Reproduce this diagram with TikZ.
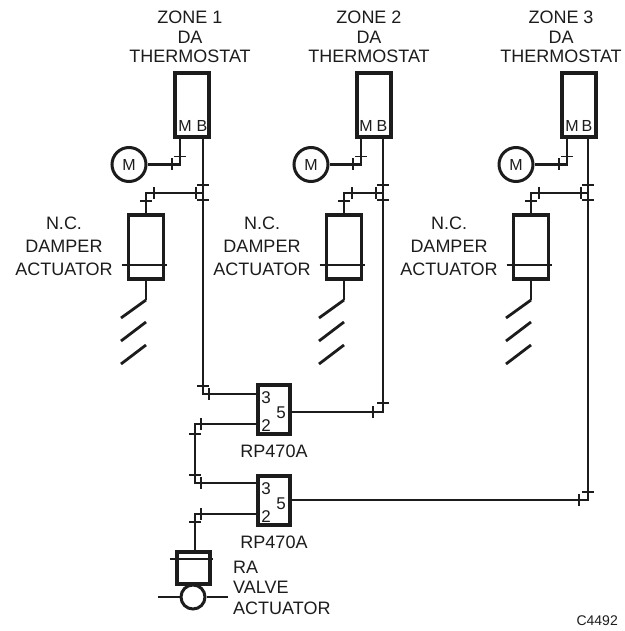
\documentclass[tikz,border=0pt]{standalone}
\usepackage{fontspec}
\setmainfont{Liberation Sans}
\definecolor{ink}{gray}{0.11}
\tikzset{
    wire/.style={draw=ink,line width=2.4pt},
    tick/.style={draw=ink,line width=1.6pt},
    bar/.style={draw=ink,line width=1.6pt},
    slash/.style={draw=ink,line width=2.8pt},
    heavybox/.style={draw=ink,line width=3.6pt,inner sep=0pt,fill=white},
    label/.style={text=ink,font=\fontsize{18}{20}\selectfont,align=center,inner sep=0pt},
    small/.style={text=ink,font=\fontsize{16}{18}\selectfont,inner sep=0pt,anchor=base}
}
\def\vtick#1#2{\draw[tick] (#1) ++(#2,-6) -- ++(0,12);}
\def\htick#1#2{\draw[tick] (#1) ++(-6,#2) -- ++(12,0);}
\begin{document}
\begin{tikzpicture}[x=1pt,y=-1pt]
    \useasboundingbox (0,0) rectangle (624,631);
    % the three zones
    \foreach \z/\lx/\tx/\mx/\bx/\cx/\dx in {1/190/192/180/203/129/146,2/369/374/361/383/311/344,3/561/579/567/588/516/531}{
        \node[heavybox,minimum width=34pt,minimum height=64pt] (therm\z) at (\tx,105) {};
        \node[small] at (\mx+5,132) {M};
        \node[small] at (\bx-1,132) {B};
        \node[label,anchor=base] at (\lx,24) {ZONE \z};
        \node[label,anchor=base] at (\lx,44) {DA};
        \node[label,anchor=base] at (\lx,63) {THERMOSTAT};
        \node[draw=ink,line width=3pt,circle,minimum size=34pt,inner sep=0pt] (motor\z) at (\cx,164.5) {};
        \node[small,anchor=center] at (\cx,165) {M};
        \coordinate (m\z) at (\mx,164.5);
        \coordinate (b\z) at (\bx,193);
        \coordinate (d\z) at (\dx,193);
        \draw[wire] (therm\z.south -| m\z) -- (m\z) -- (motor\z.east);
        \vtick{m\z}{-8}
        \htick{m\z}{-8}
        % damper
        \node[heavybox,minimum width=35pt,minimum height=64pt] (damper\z) at (\dx,247) {};
        \draw[bar] (damper\z.west) ++(-5,18) -- ++(45,0);
        \draw[wire] (b\z) -- (d\z) -- (damper\z.north);
        \vtick{b\z}{-7}
        \htick{b\z}{-8}
        \htick{b\z}{7}
        \vtick{d\z}{8}
        \htick{d\z}{8}
        \coordinate (s\z) at (\dx,300);
        \draw[wire] (damper\z.south) -- (s\z);
        \draw[slash] (s\z) -- ++(-25,18);
        \draw[slash] (s\z) ++(0,22) -- ++(-25,19);
        \draw[slash] (s\z) ++(0,45) -- ++(-25,19);
        \node[label,anchor=base] at (\dx-82,229) {N.C.};
        \node[label,anchor=base] at (\dx-82,252) {DAMPER};
        \node[label,anchor=base] at (\dx-82,275) {ACTUATOR};
    }
    % the two relays
    \foreach \r/\y/\n in {1/409.5/457,2/500.5/548}{
        \node[heavybox,minimum width=32pt,minimum height=49pt] (relay\r) at (274,\y) {};
        \node[small,font=\fontsize{17}{18}\selectfont] at (266,\y-6) {3};
        \node[small,font=\fontsize{17}{18}\selectfont] at (281,\y+8.5) {5};
        \node[small,font=\fontsize{17}{18}\selectfont] at (266,\y+22) {2};
        \node[label,anchor=base] at (274,\n) {RP470A};
    }
    % valve actuator
    \node[heavybox,minimum width=33pt,minimum height=32pt] (valve) at (193.5,568) {};
    \draw[bar] (valve.west) ++(-5,-9) -- ++(43,0);
    \node[draw=ink,line width=3pt,circle,minimum size=24pt,inner sep=0pt,fill=white] (vbody) at (193,597) {};
    \coordinate (vl) at (158,597);
    \coordinate (vr) at (228,597);
    \draw[wire] (vl) -- (vbody.west);
    \draw[wire] (vbody.east) -- (vr);
    \node[label,anchor=base west] at (233,573) {RA};
    \node[label,anchor=base west] at (233,593) {VALVE};
    \node[label,anchor=base west] at (233,614) {ACTUATOR};
    % wires to the relays
    \coordinate (c1) at (203,394);
    \coordinate (c2) at (383,412);
    \coordinate (c3) at (588,500);
    \coordinate (k1) at (195,424);
    \coordinate (k2) at (195,483);
    \coordinate (k3) at (195,514);
    \draw[wire] (therm1.south -| c1) -- (c1) -- (relay1.west |- c1);
    \draw[wire] (therm2.south -| c2) -- (c2) -- (relay1.east |- c2);
    \draw[wire] (therm3.south -| c3) -- (c3) -- (relay2.east |- c3);
    \draw[wire] (relay1.west |- k1) -- (k1) -- (k2) -- (relay2.west |- k2);
    \draw[wire] (relay2.west |- k3) -- (k3) -- (valve.north -| k3);
    \htick{c1}{-8}
    \vtick{c1}{6}
    \htick{c2}{-9}
    \vtick{c2}{-10}
    \htick{c3}{-8}
    \vtick{c3}{-9}
    \vtick{k1}{6}
    \htick{k1}{10}
    \htick{k2}{-8}
    \vtick{k2}{6}
    \vtick{k3}{6}
    \htick{k3}{8}
    \node[text=ink,font=\fontsize{14}{16}\selectfont,anchor=base east,inner sep=0pt] (code) at (618,625) {C4492};
\end{tikzpicture}
\end{document}
